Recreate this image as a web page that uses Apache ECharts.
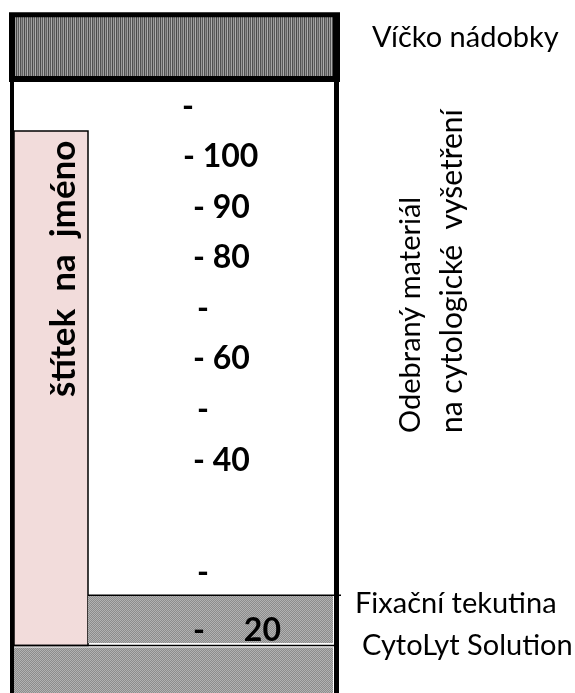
<!DOCTYPE html>
<html>
<head>
<meta charset="utf-8">
<script src="https://cdn.jsdelivr.net/npm/echarts@6/dist/echarts.min.js"></script>
<style>
html,body{margin:0;padding:0;background:#fff;}
#c{width:575px;height:693px;}
</style>
</head>
<body>
<div id="c"></div>
<script>
// Graduation marks printed on the container: level on the volume scale and printed text
const tickLevels = [110, 100, 90, 80, 70, 60, 50, 40, 17.7, 6.4];
const tickLabels = ['-', '- 100', '- 90', '- 80', '-', '- 60', '-', '- 40', '-', '-     20'];

// Parts of the container (horizontal extent in width units, vertical extent on the volume scale)
const partNames  = ['lid frame', 'lid', 'left wall', 'right wall', 'name label', 'fixative', 'fixative surface', 'bottom', 'bottom edge'];
const partLeft   = [9, 15, 10, 334, 14, 88, 88, 14, 14];
const partRight  = [340, 333, 14, 339, 88, 333, 341, 333, 335];
const partTop    = [128.6, 127.6, 114.8, 114.8, 105.1, 13.2, 13.3, 3.0, 3.4];
const partBottom = [114.8, 116.0, -6, -6, 3.4, 3.9, 13.3, -6, 3.4];

// Annotation texts
const lidText = 'Víčko nádobky';
const sampleText = ['Odebraný materiál', 'na cytologické  vyšetření'];
const fixativeText = ['Fixační tekutina', 'CytoLyt Solution'];
const labelText = 'štítek  na  jméno';

function stripes() {
  const c = document.createElement('canvas');
  c.width = 8; c.height = 4;
  const g = c.getContext('2d');
  const cols = ['#4a4a4a', '#9a9a9a', '#5a5a5a', '#adadad', '#505050', '#8a8a8a', '#626262', '#a0a0a0'];
  cols.forEach((col, i) => { g.fillStyle = col; g.fillRect(i, 0, 1, 4); });
  return c;
}
function stipple() {
  const c = document.createElement('canvas');
  c.width = 2; c.height = 2;
  const g = c.getContext('2d');
  g.fillStyle = '#8c8c8c'; g.fillRect(0, 0, 2, 2);
  g.fillStyle = '#b2b2b2'; g.fillRect(0, 0, 1, 1); g.fillRect(1, 1, 1, 1);
  return c;
}
const stripePat = { image: stripes(), repeat: 'repeat' };
const stipplePat = { image: stipple(), repeat: 'repeat' };

const partStyle = {
  'lid frame': { fill: '#000' },
  'lid': { fill: stripePat },
  'left wall': { fill: '#000' },
  'right wall': { fill: '#000' },
  'name label': { fill: '#f2dcdb', stroke: '#000', lineWidth: 1.5 },
  'fixative': { fill: stipplePat },
  'bottom': { fill: stipplePat }
};

const partData = partNames.map((n, i) => [partLeft[i], partRight[i], partTop[i], partBottom[i], i]);

const tickData = tickLabels.map((t, i) => {
  let x;
  if (t === '-') x = (i === 0) ? 182 : 197;
  else if (/\d{3}/.test(t)) x = 183;
  else x = 193;
  return [x, tickLevels[i], i];
});

const chart = echarts.init(document.getElementById('c'), null, { renderer: 'canvas' });
const font = 'Lato, "Open Sans", sans-serif';

chart.setOption({
  animation: false,
  backgroundColor: '#fff',
  grid: { left: 0, right: 0, top: 0, bottom: 0 },
  xAxis: { type: 'value', min: 0, max: 575, show: false },
  yAxis: { type: 'value', min: -6, max: 131, show: false },
  series: [
    {
      type: 'custom',
      clip: false,
      encode: { x: [0, 1], y: [2, 3] },
      data: partData,
      renderItem: function (params, api) {
        const i = api.value(4);
        const name = partNames[i];
        const p0 = api.coord([api.value(0), api.value(2)]);
        const p1 = api.coord([api.value(1), api.value(3)]);
        if (name === 'fixative surface' || name === 'bottom edge') {
          return { type: 'line', shape: { x1: p0[0], y1: p0[1], x2: p1[0], y2: p0[1] }, style: { stroke: '#000', lineWidth: 1.5 } };
        }
        return {
          type: 'rect',
          shape: { x: p0[0], y: p0[1], width: p1[0] - p0[0], height: p1[1] - p0[1] },
          style: partStyle[name]
        };
      }
    },
    {
      type: 'custom',
      clip: false,
      encode: { x: 0, y: 1 },
      data: tickData,
      z: 5,
      renderItem: function (params, api) {
        const p = api.coord([api.value(0), api.value(1)]);
        return {
          type: 'text',
          x: p[0], y: p[1],
          style: {
            text: tickLabels[api.value(2)],
            font: 'bold 32px ' + font,
            fill: '#000',
            align: 'left',
            verticalAlign: 'middle'
          }
        };
      }
    }
  ],
  graphic: [
    { type: 'text', x: 372, y: 38, style: { text: lidText, font: '29px ' + font, fill: '#000', align: 'left', verticalAlign: 'middle' } },
    { type: 'text', x: 411, y: 433, rotation: Math.PI / 2, style: { text: sampleText[0], font: '29px ' + font, fill: '#000', align: 'left', verticalAlign: 'middle' } },
    { type: 'text', x: 452, y: 433, rotation: Math.PI / 2, style: { text: sampleText[1], font: '30px ' + font, fill: '#000', align: 'left', verticalAlign: 'middle' } },
    { type: 'text', x: 355, y: 604, style: { text: fixativeText[0], font: '29px ' + font, fill: '#000', align: 'left', verticalAlign: 'middle' } },
    { type: 'text', x: 362, y: 646, style: { text: fixativeText[1], font: '29px ' + font, fill: '#000', align: 'left', verticalAlign: 'middle' } },
    { type: 'text', x: 64, y: 397, rotation: Math.PI / 2, z: 10, style: { text: labelText, font: 'bold 35px ' + font, fill: '#000', align: 'left', verticalAlign: 'middle' } }
  ]
});
</script>
</body>
</html>
